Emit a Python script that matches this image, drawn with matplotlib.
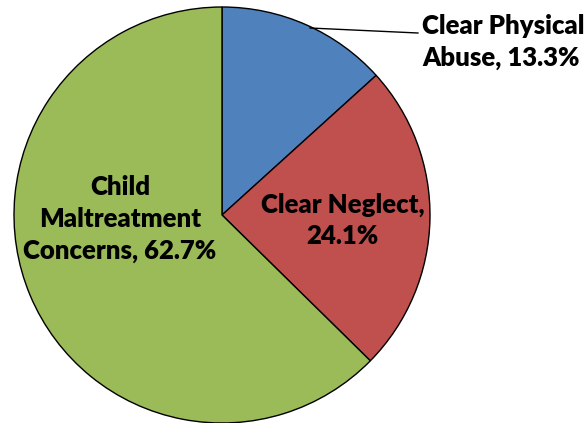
import matplotlib
matplotlib.use("Agg")
import matplotlib.pyplot as plt

# slice data (clockwise from 12 o'clock)
labels = ["Clear Physical\nAbuse, 13.3%", "Clear Neglect,\n24.1%", "Child\nMaltreatment\nConcerns, 62.7%"]
values = [13.3, 24.1, 62.7]
colors = ["#4F81BD", "#C0504D", "#9BBB59"]

plt.rcParams['font.family'] = ['Lato', 'DejaVu Sans']

fig = plt.figure(figsize=(5.84, 4.23), dpi=100)
ax = fig.add_axes([14 / 584, 0, 416 / 584, 416 / 423])

ax.pie(values, colors=colors, startangle=90, counterclock=False,
       wedgeprops=dict(edgecolor="black", linewidth=1.0))
ax.set_xlim(-1, 1)
ax.set_ylim(-1, 1)
ax.set_aspect("equal")

fs = 18.5
ls = 1.38
# labels
ax.text(-0.49, -0.02, labels[2], ha="center", va="center", fontsize=fs,
        fontweight="heavy", linespacing=ls)
ax.text(0.58, -0.025, labels[1], ha="center", va="center", fontsize=fs,
        fontweight="heavy", linespacing=ls)
ax.text(0.963, 0.83, labels[0], ha="left", va="center", fontsize=fs,
        fontweight="heavy", linespacing=ls, clip_on=False)

# leader line for the small slice
ax.plot([0.423, 0.942], [0.899, 0.875], color="black", linewidth=1.0, clip_on=False)

fig.savefig("out.png", dpi=100)
